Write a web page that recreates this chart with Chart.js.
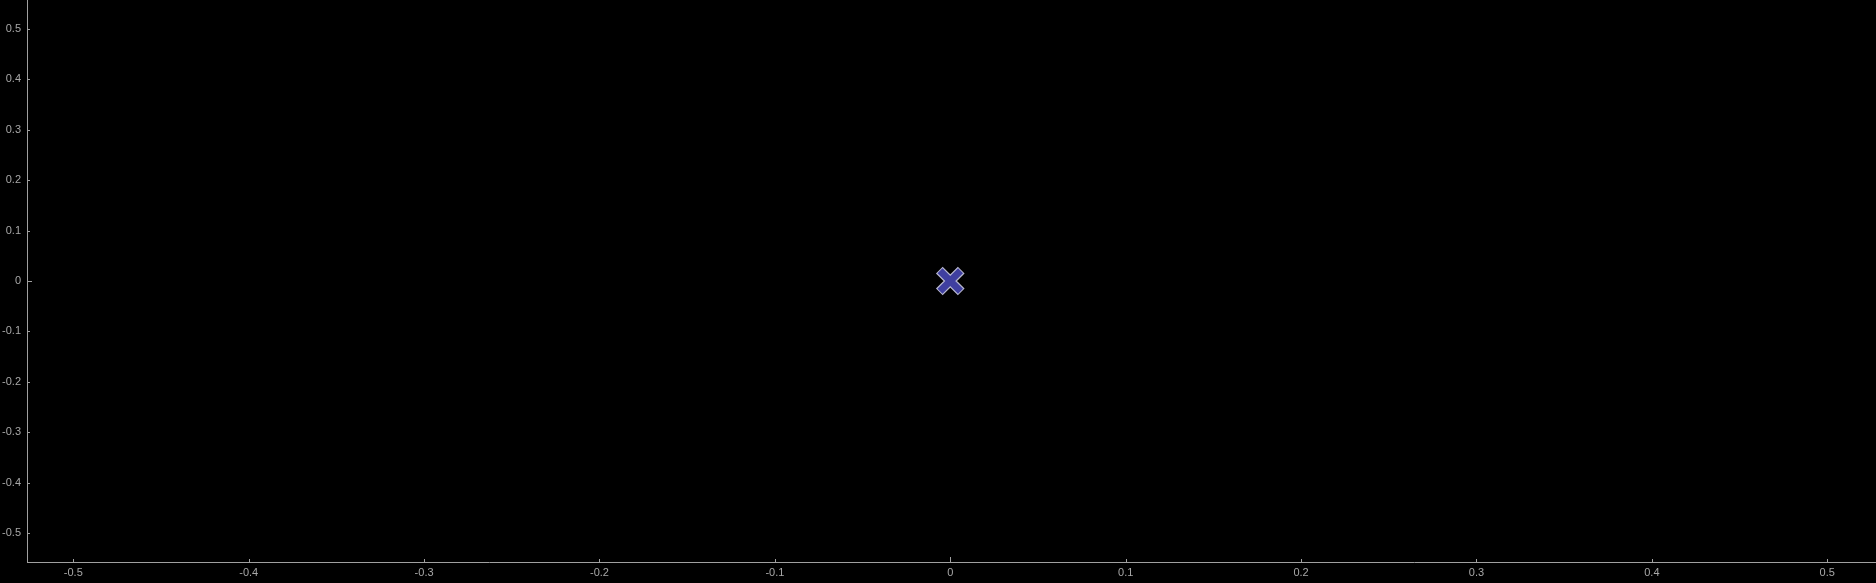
<!DOCTYPE html>
<html>
<head>
<meta charset="utf-8">
<script src="https://cdn.jsdelivr.net/npm/chart.js@4/dist/chart.umd.min.js"></script>
<style>
    html, body { margin: 0; padding: 0; background: #000; }
    #wrap { width: 1876px; height: 583px; }
</style>
</head>
<body>
<div id="wrap"><canvas id="plot"></canvas></div>
<script>
// data
const pointsX = [0];
const pointsY = [0];
const xTicks = [-0.5, -0.4, -0.3, -0.2, -0.1, 0, 0.1, 0.2, 0.3, 0.4, 0.5];
const yTicks = [-0.5, -0.4, -0.3, -0.2, -0.1, 0, 0.1, 0.2, 0.3, 0.4, 0.5];

const axisColor = '#a0a0a0';
const labelColor = '#a8a8a8';
const fontCfg = { family: "'Liberation Sans', sans-serif", size: 11 };

const pts = pointsX.map((x, i) => ({ x: x, y: pointsY[i] }));

// no extra padding for edge labels
function noPad(scale) {
    scale.paddingTop = 0;
    scale.paddingBottom = 0;
    scale.paddingLeft = 0;
    scale.paddingRight = 0;
}

// small tick marks drawn inside the plot area
const innerTicks = {
    id: 'innerTicks',
    afterDraw(chart) {
        const ctx = chart.ctx;
        const area = chart.chartArea;
        const xs = chart.scales.x, ys = chart.scales.y;
        ctx.save();
        ctx.strokeStyle = axisColor;
        ctx.lineWidth = 1;
        xTicks.forEach(v => {
            const px = Math.round(xs.getPixelForValue(v)) + 0.5;
            const len = v === 0 ? 5 : 3;
            ctx.beginPath();
            ctx.moveTo(px, area.bottom);
            ctx.lineTo(px, area.bottom - len);
            ctx.stroke();
        });
        yTicks.forEach(v => {
            const py = Math.round(ys.getPixelForValue(v)) + 0.5;
            const len = v === 0 ? 5 : 3;
            ctx.beginPath();
            ctx.moveTo(area.left, py);
            ctx.lineTo(area.left + len, py);
            ctx.stroke();
        });
        ctx.restore();
    }
};

const bgPlugin = {
    id: 'bg',
    beforeDraw(chart) {
        const ctx = chart.ctx;
        ctx.save();
        ctx.fillStyle = '#000';
        ctx.fillRect(0, 0, chart.width, chart.height);
        ctx.restore();
    }
};

const chart = new Chart(document.getElementById('plot'), {
    type: 'scatter',
    data: {
        datasets: [
            {
                // inner blue cross (dataset 0 is drawn on top)
                data: pts,
                pointStyle: 'crossRot',
                pointRadius: 14.5,
                pointBorderWidth: 7,
                pointBorderColor: '#3f3fa0',
                pointBackgroundColor: '#3f3fa0',
                pointHoverRadius: 14.5
            },
            {
                // light outline
                data: pts,
                pointStyle: 'crossRot',
                pointRadius: 15.5,
                pointBorderWidth: 9.5,
                pointBorderColor: '#b8b8d0',
                pointBackgroundColor: '#b8b8d0',
                pointHoverRadius: 15.5
            }
        ]
    },
    options: {
        responsive: true,
        maintainAspectRatio: false,
        animation: false,
        layout: { padding: 0, autoPadding: false },
        plugins: {
            legend: { display: false },
            tooltip: { enabled: false }
        },
        scales: {
            x: {
                type: 'linear',
                min: -0.5264,
                max: 0.5278,
                afterBuildTicks: (scale) => { scale.ticks = xTicks.map(v => ({ value: v })); },
                afterFit: (scale) => { scale.height = 21; noPad(scale); },
                grid: { display: false, drawTicks: false },
                border: { display: true, color: axisColor, width: 1 },
                ticks: {
                    color: labelColor,
                    font: fontCfg,
                    padding: 4,
                    autoSkip: false,
                    maxRotation: 0,
                    callback: (v) => String(v)
                }
            },
            y: {
                type: 'linear',
                min: -0.5577,
                max: 0.5577,
                afterBuildTicks: (scale) => { scale.ticks = yTicks.map(v => ({ value: v })); },
                afterFit: (scale) => { scale.width = 27; noPad(scale); },
                grid: { display: false, drawTicks: false },
                border: { display: true, color: axisColor, width: 1 },
                ticks: {
                    color: labelColor,
                    font: fontCfg,
                    padding: 6,
                    autoSkip: false,
                    callback: (v) => String(v)
                }
            }
        }
    },
    plugins: [bgPlugin, innerTicks]
});
</script>
</body>
</html>
